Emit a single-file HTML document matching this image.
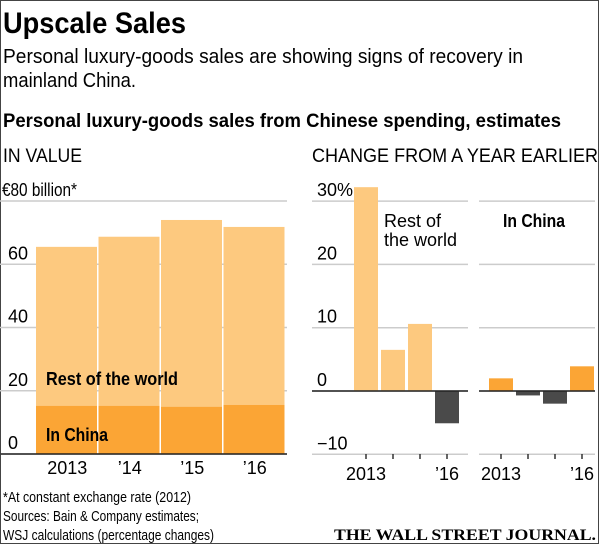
<!DOCTYPE html>
<html><head><meta charset="utf-8"><style>
body{margin:0;background:#fff}
svg{display:block;font-family:"Liberation Sans",sans-serif}
</style></head><body>
<svg width="600" height="545" viewBox="0 0 600 545">
<rect x="0.5" y="0.5" width="598" height="543" fill="#fff" stroke="#444"/>
<text x="3" y="33" font-size="30" font-weight="bold" textLength="183" lengthAdjust="spacingAndGlyphs">Upscale Sales</text>
<text x="3" y="63" font-size="20" textLength="520" lengthAdjust="spacingAndGlyphs">Personal luxury-goods sales are showing signs of recovery in</text>
<text x="3" y="87" font-size="20" textLength="133" lengthAdjust="spacingAndGlyphs">mainland China.</text>
<text x="3" y="127" font-size="19" font-weight="bold" textLength="558" lengthAdjust="spacingAndGlyphs">Personal luxury-goods sales from Chinese spending, estimates</text>
<text x="3" y="162" font-size="19" textLength="79" lengthAdjust="spacingAndGlyphs">IN VALUE</text>
<text x="312" y="162" font-size="19" textLength="286" lengthAdjust="spacingAndGlyphs">CHANGE FROM A YEAR EARLIER</text>
<g id="left"></g>
<g id="right"></g>
<text x="3" y="502" font-size="15" textLength="188" lengthAdjust="spacingAndGlyphs">*At constant exchange rate (2012)</text>
<text x="3" y="521" font-size="15" textLength="196" lengthAdjust="spacingAndGlyphs">Sources: Bain &amp; Company estimates;</text>
<text x="3" y="540" font-size="15" textLength="211" lengthAdjust="spacingAndGlyphs">WSJ calculations (percentage changes)</text>
<text x="596" y="540" font-size="16" font-weight="bold" text-anchor="end" font-family="Liberation Serif,serif" textLength="262" lengthAdjust="spacingAndGlyphs">THE WALL STREET JOURNAL.</text>
</svg>
<script>
const years=['2013','\u201914','\u201915','\u201916'];
const chinaValue=[15.2,15.2,14.9,15.5];
const totalValue=[65.5,68.7,74,71.8];
const leftTicks=[0,20,40,60,80];
const rowChange=[32.2,6.5,10.6,-5.1];
const chinaChange=[2.0,-0.7,-2.0,3.9];
const changeTicks=[-10,0,10,20,30];
const changeTickLabels=['\u221210','0','10','20','30%'];
const changeYearLabels=['2013','','','\u201916'];

const NS='http://www.w3.org/2000/svg';
function mk(p,t,a){const e=document.createElementNS(NS,t);for(const k in a)e.setAttribute(k,a[k]);p.appendChild(e);return e;}
const L=document.getElementById('left'),R=document.getElementById('right');
const yL=v=>454-v*(253/80);
const yR=v=>391-v*6.33;
const LIGHT='#fdc97f',DARK='#fba535',NEG='#4a4a4a';
leftTicks.forEach(t=>{
 const g=mk(L,'line',{x1:0,x2:287,y1:yL(t),y2:yL(t),stroke:'#ccc','stroke-width':1.5});
 
 
 if(t<80){const tx=mk(L,'text',{x:8,y:yL(t)-5,'font-size':18});tx.textContent=t;
 
 }
});
const yl=mk(L,'text',{x:2,y:196,'font-size':18,textLength:75,lengthAdjust:'spacingAndGlyphs'});
yl.textContent='\u20ac80 billion*';


const bw=62.5,bx0=36;
years.forEach((y,i)=>{
 const x=bx0+i*bw;
 const r=mk(L,'rect',{x:x,y:yL(totalValue[i]),width:bw-1.5,height:yL(0)-yL(totalValue[i]),fill:LIGHT});
 
 
 const c=mk(L,'rect',{x:x,y:yL(chinaValue[i]),width:bw-1.5,height:yL(0)-yL(chinaValue[i]),fill:DARK});
 
 
 const t=mk(L,'text',{x:x+bw/2,y:474,'font-size':18,'text-anchor':'middle'});t.textContent=y;
 
 
});
mk(L,'line',{x1:0,x2:287,y1:454,y2:454,stroke:'#222','stroke-width':1.5});
const l1=mk(L,'text',{x:46,y:385,'font-size':18,'font-weight':'bold',textLength:132,lengthAdjust:'spacingAndGlyphs'});l1.textContent='Rest of the world';


const l2=mk(L,'text',{x:46,y:441,'font-size':18,'font-weight':'bold',textLength:62,lengthAdjust:'spacingAndGlyphs'});l2.textContent='In China';


function panel(x0,x1,bx,vals,posColor,name){
 changeTicks.forEach(t=>{
  const g=mk(R,'line',{x1:x0,x2:x1,y1:yR(t),y2:yR(t),stroke:'#ccc','stroke-width':1.5});
  
  
 });
 vals.forEach((v,i)=>{
  const x=bx+i*27;
  const top=Math.min(yR(v),yR(0)),h=Math.abs(yR(v)-yR(0));
  const r=mk(R,'rect',{x:x,y:top,width:24,height:h,fill:v>=0?posColor:NEG});
  
  
  mk(R,'line',{x1:x+12,x2:x+12,y1:454,y2:459,stroke:'#333','stroke-width':1.5});
  if(changeYearLabels[i]){const t=mk(R,'text',{x:x+12,y:480,'font-size':18,'text-anchor':'middle'});t.textContent=changeYearLabels[i];
  
  }
 });
 mk(R,'line',{x1:x0,x2:x1,y1:yR(0),y2:yR(0),stroke:'#222','stroke-width':1.5});
}
panel(312,468,354,rowChange,LIGHT,'rest-of-world-change');
panel(479,595,489,chinaChange,DARK,'china-change');
changeTicks.forEach((t,i)=>{
 const tx=mk(R,'text',{x:317,y:yR(t)-5,'font-size':18});tx.textContent=changeTickLabels[i];
 
 
});
const r1=mk(R,'text',{x:384,y:227,'font-size':18});r1.textContent='Rest of';


const r2=mk(R,'text',{x:384,y:246,'font-size':18});r2.textContent='the world';


const r3=mk(R,'text',{x:503,y:227,'font-size':18,'font-weight':'bold',textLength:62,lengthAdjust:'spacingAndGlyphs'});r3.textContent='In China';


</script>
</body></html>
